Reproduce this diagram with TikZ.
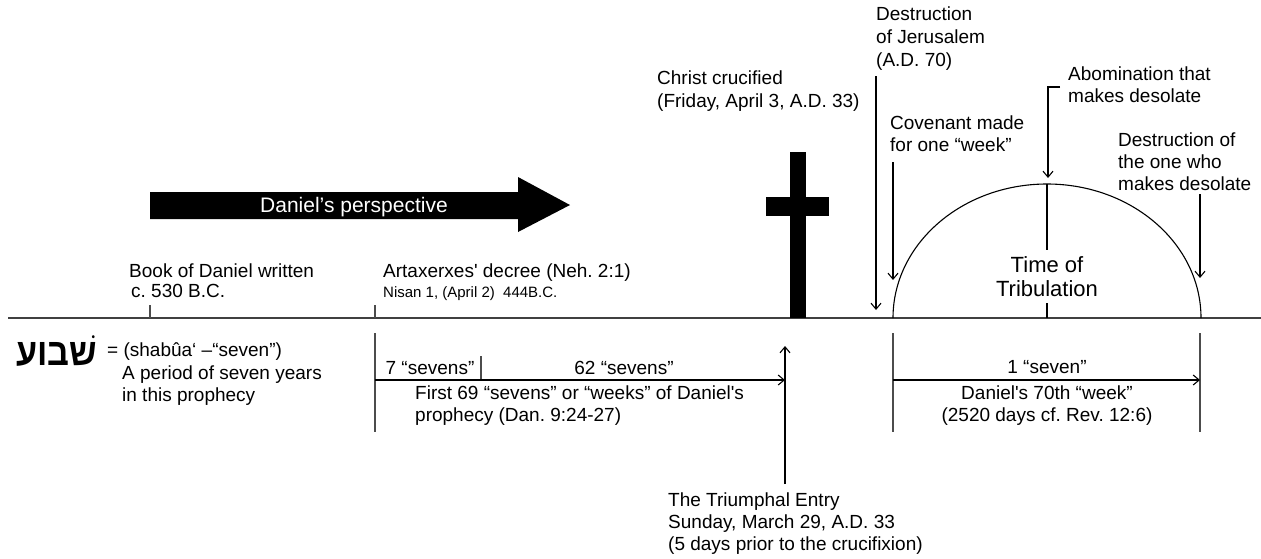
\documentclass[tikz,border=0pt]{standalone}
\usepackage{fontspec}
\defaultfontfeatures[\rmfamily]{}
\setmainfont{Liberation Sans}
\newfontfamily\hebfont[Script=Hebrew]{Liberation Sans Bold}
\TeXXeTstate=1
\usetikzlibrary{arrows.meta}
\begin{document}
\frenchspacing
\begin{tikzpicture}[x=1pt,y=-1pt,
  lbl/.style={inner sep=0pt, anchor=base west, font=\fontsize{19}{22.5}\selectfont\frenchspacing},
  lblc/.style={lbl, anchor=base},
  small/.style={lbl, font=\fontsize{15}{18}\selectfont\frenchspacing},
  big/.style={lblc, font=\fontsize{22}{25}\selectfont},
  thinln/.style={line width=1.1pt, draw=black},
  grayln/.style={line width=1.1pt, draw=black!70},
  arr/.style={thinln, -{Straight Barb[length=6pt,width=10pt,line width=1.1pt]}},
  axis/.style={line width=2pt, draw=black!75},
]
\useasboundingbox (0,0) rectangle (1261,558);

% ---- timeline
\coordinate (tl0) at (8,318);
\coordinate (tl1) at (1261,318);
\draw[axis] (tl0) -- (tl1);

% ---- Daniel's perspective arrow
\fill (150,192) -- (518,192) -- (518,177) -- (570,205) -- (518,232) -- (518,219) -- (150,219) -- cycle;
\node[lblc, font=\fontsize{21}{24}\selectfont, text=white] (persp) at (354,212) {Daniel’s perspective};

% ---- Book of Daniel
\coordinate (bkA) at (150,305);
\coordinate (bkB) at (150,318);
\draw[grayln] (bkA) -- (bkB);
\node[lbl] (book1) at (129,277) {Book of Daniel written};
\node[lbl] (book2) at (131,297) {c. 530 B.C.};

% ---- Artaxerxes
\coordinate (arA) at (375,305);
\coordinate (arB) at (375,318);
\draw[grayln] (arA) -- (arB);
\node[lbl] (art1) at (383,277) {Artaxerxes' decree (Neh. 2:1)};
\node[small] (art2) at (383,297) {Nisan 1, (April 2)\ \ 444B.C.};

% ---- cross
\fill (790,152) rectangle (806,318);
\fill (766,197) rectangle (829,216);
\node[lbl] (chr1) at (657,84) {Christ crucified};
\node[lbl] (chr2) at (657,107) {(Friday, April 3, A.D. 33)};

% ---- Destruction of Jerusalem
\node[lbl] (dj1) at (876,20) {Destruction};
\node[lbl] (dj2) at (876,43) {of Jerusalem};
\node[lbl] (dj3) at (876,66) {(A.D. 70)};
\coordinate (djA) at (876,76);
\coordinate (djB) at (876,310);
\draw[arr] (djA) -- (djB);

% ---- Covenant
\node[lbl] (cv1) at (890,129) {Covenant made};
\node[lbl] (cv2) at (890,151) {for one “week”};
\coordinate (cvA) at (893,162);
\coordinate (cvB) at (893,280);
\draw[arr] (cvA) -- (cvB);

% ---- Tribulation arc
\coordinate (trC) at (1047,318);
\draw[thinln] (893,318) arc[start angle=180, end angle=0, x radius=154, y radius=-134];
\coordinate (trTop) at (1047,184);
\coordinate (trMid) at (1047,250);
\draw[thinln] (trTop) -- (trMid);
\coordinate (trT1) at (1047,303);
\draw[thinln] (trT1) -- (trC);
\node[big] (tt1) at (1047,272) {Time of};
\node[big] (tt2) at (1047,296) {Tribulation};

% ---- Abomination
\node[lbl] (ab1) at (1068,80) {Abomination that};
\node[lbl] (ab2) at (1068,102) {makes desolate};
\coordinate (abA) at (1060,87);
\coordinate (abK) at (1048,87);
\coordinate (abB) at (1048,178);
\draw[arr] (abA) -- (abK) -- (abB);

% ---- Destruction of the one
\node[lbl] (do1) at (1118,146) {Destruction of};
\node[lbl] (do2) at (1118,168) {the one who};
\node[lbl] (do3) at (1118,190) {makes desolate};
\coordinate (doA) at (1200,194);
\coordinate (doB) at (1200,278);
\draw[arr] (doA) -- (doB);

% ---- below: 69 weeks
\coordinate (s0a) at (375,333);
\coordinate (s0b) at (375,432);
\draw[grayln] (s0a) -- (s0b);
\coordinate (s7a) at (481,356);
\coordinate (s7b) at (481,380);
\draw[grayln] (s7a) -- (s7b);
\coordinate (s69a) at (375,380);
\coordinate (s69b) at (785,380);
\draw[arr] (s69a) -- (s69b);
\node[lblc] (sev7) at (430,374) {7 “sevens”};
\node[lblc] (sev62) at (624,374) {62 “sevens”};
\node[lbl] (f69a) at (415,399) {First 69 “sevens” or “weeks” of Daniel's};
\node[lbl] (f69b) at (415,421) {prophecy (Dan. 9:24-27)};

% ---- Triumphal entry
\coordinate (teA) at (785,484);
\coordinate (teB) at (785,346);
\draw[arr] (teA) -- (teB);
\node[lbl] (te1) at (668,506) {The Triumphal Entry};
\node[lbl] (te2) at (668,528) {Sunday, March 29, A.D. 33};
\node[lbl] (te3) at (668,550) {(5 days prior to the crucifixion)};

% ---- 70th week
\coordinate (w0a) at (893,333);
\coordinate (w0b) at (893,432);
\draw[grayln] (w0a) -- (w0b);
\coordinate (w1a) at (1200,333);
\coordinate (w1b) at (1200,432);
\draw[grayln] (w1a) -- (w1b);
\coordinate (w7a) at (893,380);
\coordinate (w7b) at (1200,380);
\draw[arr] (w7a) -- (w7b);
\node[lblc] (one7) at (1047,373) {1 “seven”};
\node[lblc] (d70a) at (1047,399) {Daniel's 70th “week”};
\node[lblc] (d70b) at (1047,421) {(2520 days cf. Rev. 12:6)};

% ---- Hebrew term
\node[inner sep=0pt, anchor=base west, font=\fontsize{38}{42}\selectfont\hebfont] (heb) at (16,365) {\scalebox{0.9}[1]{\beginR שׁבוע\endR}};
\node[lbl] (sh1) at (107,356) {= (shabûa‘ –“seven”)};
\node[lbl] (sh2) at (122,379) {A period of seven years};
\node[lbl] (sh3) at (122,401) {in this prophecy};
\end{tikzpicture}
\end{document}
